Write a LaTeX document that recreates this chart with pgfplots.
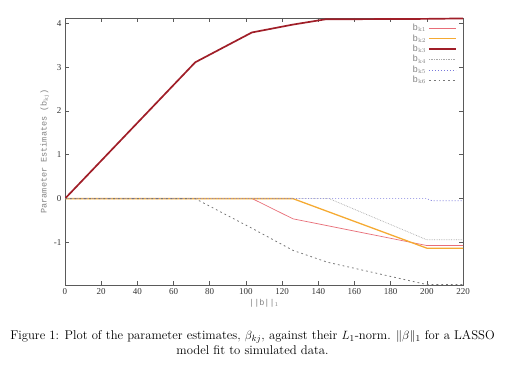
\documentclass[border=0pt]{standalone}
\usepackage{pgfplots}
\pgfplotsset{compat=1.18}
\usepackage{fontspec}
\newfontfamily\tnr{Liberation Serif}
\newfontfamily\cour{Liberation Mono}
\definecolor{axgray}{RGB}{90,90,90}
\definecolor{lblgray}{RGB}{130,130,130}
\definecolor{ckone}{RGB}{232,110,120}
\definecolor{cktwo}{RGB}{245,170,50}
\definecolor{ckthree}{RGB}{160,30,40}
\definecolor{ckfour}{RGB}{170,170,170}
\definecolor{ckfive}{RGB}{120,120,220}
\definecolor{cksix}{RGB}{120,120,120}
\begin{document}
\begin{tikzpicture}[x=1pt,y=1pt]
\useasboundingbox (0,0) rectangle (505,365);
\begin{axis}[
  at={(65pt,80pt)}, anchor=south west,
  scale only axis, width=398pt, height=267pt,
  xmin=0, xmax=220, ymin=-1.97, ymax=4.12,
  xtick={0,20,...,220}, ytick={-1,0,1,2,3,4},
  tick align=inside, major tick length=4pt,
  axis line style={axgray, line width=0.6pt},
  every tick/.style={axgray, line width=0.6pt},
  /pgf/number format/assume math mode=true,
  tick label style={font=\tnr\fontsize{9}{10}\selectfont, text=black!80},
  xlabel={\cour\fontsize{8.5}{9}\selectfont ||b||$_{\mathrm{1}}$},
  ylabel={\cour\fontsize{8.5}{9}\selectfont Parameter Estimates (b$_{\mathrm{kj}}$)},
  label style={text=lblgray},
  xlabel style={yshift=2pt},
  ylabel style={yshift=-2pt},
  legend style={draw=none, fill=none, at={(0.985,0.985)}, anchor=north east,
    font=\cour\fontsize{9}{9}\selectfont, text=lblgray,
    row sep=-1.6pt, inner sep=0pt},
  legend cell align=right,
  legend plot pos=right,
  legend image code/.code={\draw[#1] (0pt,0pt) -- (27pt,0pt);},
  clip=true,
]
\addplot[ckone, line width=0.7pt] coordinates {(0,0) (103.5,0) (126,-0.46) (200,-1.07) (220,-1.07)};
\addlegendentry{b$_{\mathrm{k1}}$}
\addplot[cktwo, line width=1.3pt] coordinates {(0,0) (126,0) (200,-1.13) (220,-1.13)};
\addlegendentry{b$_{\mathrm{k2}}$}
\addplot[ckthree, line width=1.7pt] coordinates {(0,0) (72,3.11) (103.3,3.79) (126,3.97) (144,4.09) (200,4.1) (220,4.11)};
\addlegendentry{b$_{\mathrm{k3}}$}
\addplot[ckfour, line width=0.7pt, densely dotted] coordinates {(0,0) (146,0) (200,-0.94) (220,-0.94)};
\addlegendentry{b$_{\mathrm{k4}}$}
\addplot[ckfive, line width=0.7pt, dash pattern=on 1pt off 2pt] coordinates {(0,0) (200,0) (203,-0.05) (220,-0.05)};
\addlegendentry{b$_{\mathrm{k5}}$}
\addplot[cksix, line width=0.8pt, dash pattern=on 1.8pt off 3pt] coordinates {(0,0) (72,0) (103.5,-0.68) (126,-1.18) (145,-1.45) (200,-1.96) (220,-1.96)};
\addlegendentry{b$_{\mathrm{k6}}$}
\end{axis}
\node[align=center, font=\fontsize{12.7}{15}\selectfont] at (252.5,22.5)
  {Figure 1: Plot of the parameter estimates, $\beta_{kj}$, against their $L_1$-norm. $\|\beta\|_1$ for a LASSO\\ model fit to simulated data.};
\end{tikzpicture}
\end{document}
